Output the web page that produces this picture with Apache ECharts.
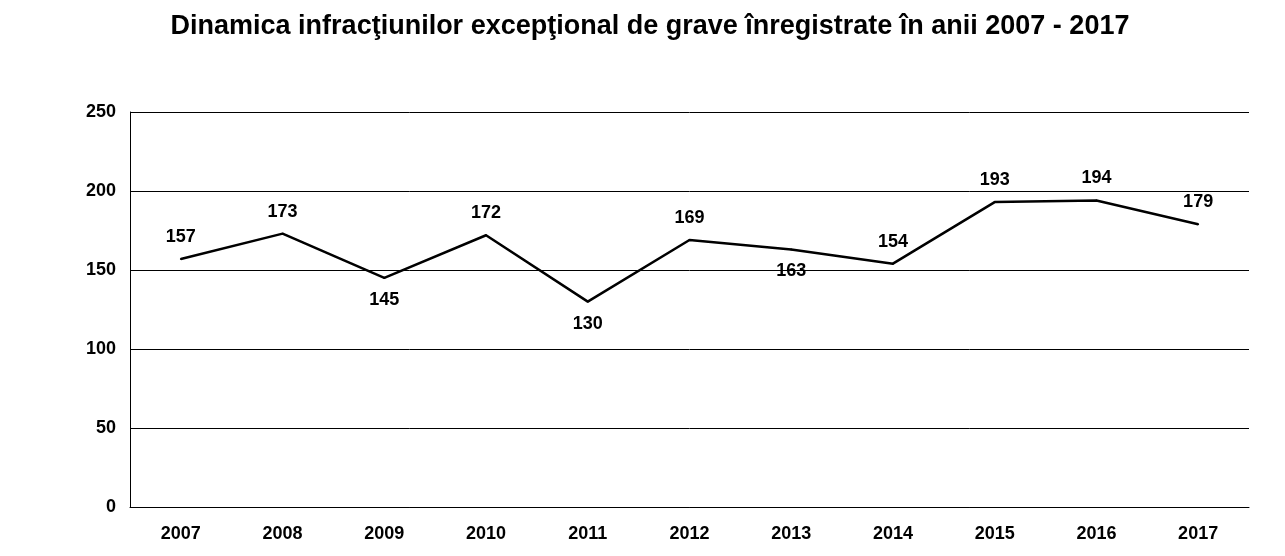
<!DOCTYPE html>
<html>
<head>
<meta charset="utf-8">
<script src="https://cdn.jsdelivr.net/npm/echarts@6/dist/echarts.min.js"></script>
<style>
  html, body { margin: 0; padding: 0; background: #fff; }
  #chart { width: 1285px; height: 556px; }
</style>
</head>
<body>
<div id="chart"></div>
<script>
// years and values
var years = ['2007', '2008', '2009', '2010', '2011', '2012', '2013', '2014', '2015', '2016', '2017'];
var cases = [157, 173, 145, 172, 130, 169, 163, 154, 193, 194, 179];
// where each label sits relative to its point
var labelPos = ['top', 'top', 'bottom', 'top', 'bottom', 'top', 'bottom', 'top', 'top', 'top', 'top'];

var chart = echarts.init(document.getElementById('chart'));

var points = cases.map(function (v, i) {
  return { value: v, label: { show: true, position: labelPos[i] } };
});

chart.setOption({
  backgroundColor: '#ffffff',
  animation: false,
  title: {
    text: 'Dinamica infracţiunilor excepţional de grave înregistrate în anii 2007 - 2017',
    left: 645,
    textAlign: 'center',
    top: 8,
    textStyle: { fontFamily: 'Liberation Sans', fontSize: 27, fontWeight: 'bold', color: '#000' }
  },
  grid: { left: 130, right: 36, top: 112, bottom: 49 },
  xAxis: {
    type: 'category',
    data: years,
    boundaryGap: true,
    axisLine: { lineStyle: { color: '#000', width: 1 } },
    axisTick: { show: false },
    axisLabel: { color: '#000', fontFamily: 'Liberation Sans', fontSize: 18, fontWeight: 'bold', margin: 18 }
  },
  yAxis: {
    type: 'value',
    min: 0,
    max: 250,
    interval: 50,
    axisLine: { show: true, lineStyle: { color: '#000', width: 1 } },
    splitLine: { lineStyle: { color: '#000', width: 1 } },
    axisLabel: { color: '#000', fontFamily: 'Liberation Sans', fontSize: 18, fontWeight: 'bold', margin: 14 }
  },
  series: [{
    type: 'line',
    data: points,
    showSymbol: true,
    symbol: 'circle',
    symbolSize: 2,
    itemStyle: { color: '#000' },
    lineStyle: { color: '#000', width: 2.5 },
    label: {
      show: true,
      color: '#000',
      fontFamily: 'Liberation Sans',
      fontSize: 18,
      fontWeight: 'bold',
      distance: 12
    }
  }]
});
</script>
</body>
</html>
